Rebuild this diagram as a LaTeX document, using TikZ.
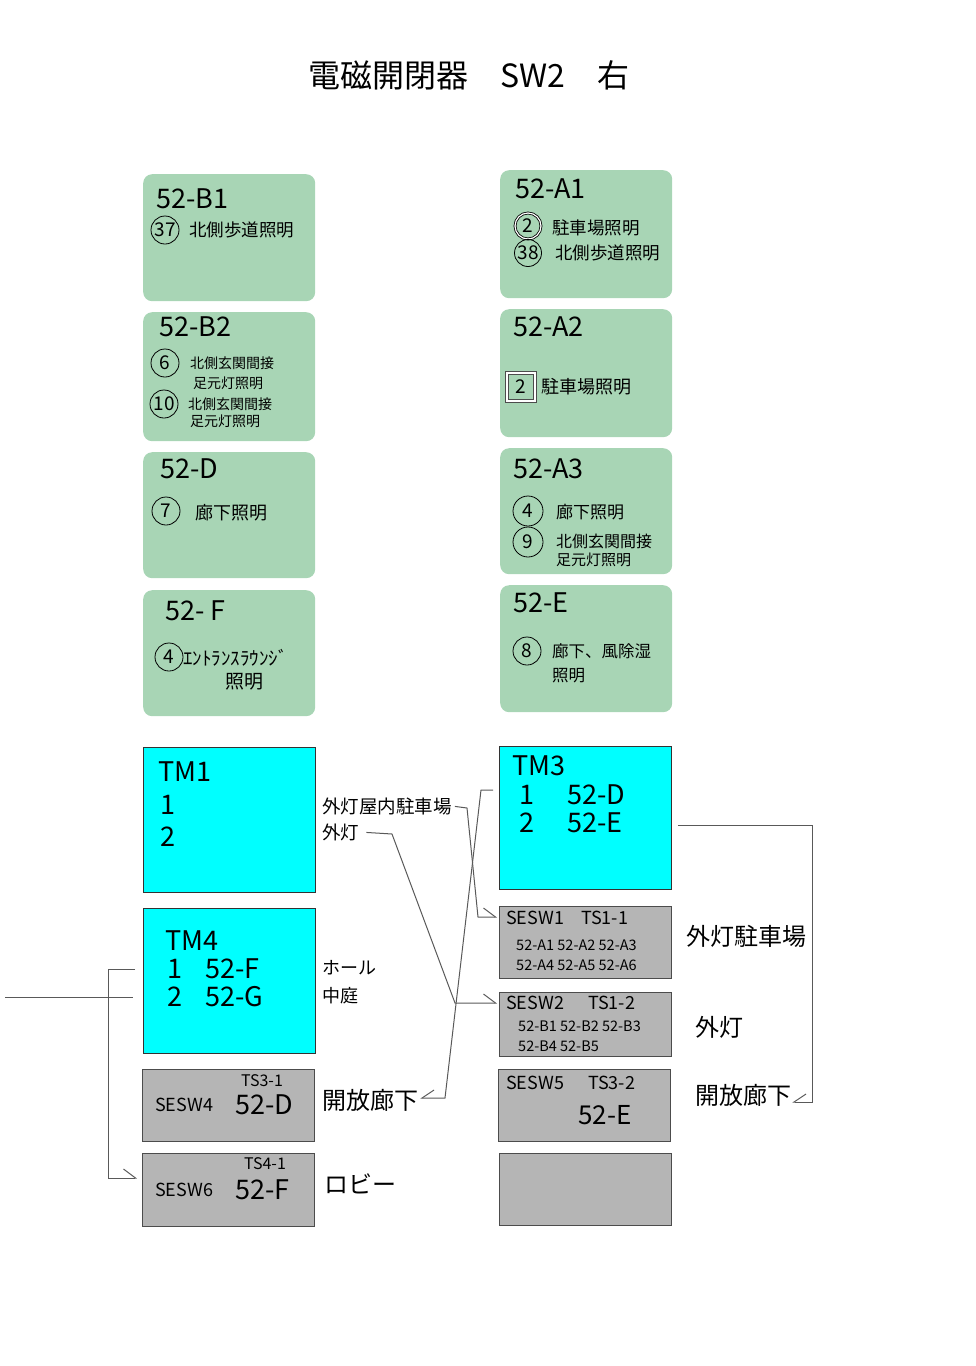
\documentclass[tikz,border=0pt]{standalone}
\usepackage{fontspec}
\setmainfont{Noto Sans CJK JP}
\usetikzlibrary{arrows.meta}
\newcommand\fsz[1]{\fontsize{#1}{#1}\selectfont}
\definecolor{boxgreen}{RGB}{168,213,181}
\definecolor{boxgray}{RGB}{181,181,181}
\definecolor{boxcyan}{RGB}{0,255,255}

\begin{document}
\begin{tikzpicture}[x=1pt,y=-1pt,
  gbox/.style={fill=boxgreen, rounded corners=9pt, anchor=north west, minimum width=172pt, inner sep=0pt},
  cbox/.style={fill=boxcyan, draw=black!80, line width=0.8pt, anchor=north west, minimum width=172pt, inner sep=0pt},
  sbox/.style={fill=boxgray, draw=black!70, line width=1pt, anchor=north west, minimum width=172pt, inner sep=0pt},
  txt/.style={anchor=west, inner sep=0pt},
  num/.style={circle, draw, line width=0.8pt, minimum size=28pt, inner sep=0pt, font=\fsz{19}},
  wire/.style={draw=black!65, line width=1pt},
  hbarb/.tip={Straight Barb[harpoon, length=12pt, width=18pt]},
  hbarbs/.tip={Straight Barb[harpoon, swap, length=12pt, width=16pt]}]
  \useasboundingbox (0,0) rectangle (976,1366);

  \node[txt, font=\fsz{32}] (title) at (308,75) {電磁開閉器　SW2　右};

  % green boxes
  \node[gbox, minimum height=127pt] (b1) at (143,174) {};
  \node[gbox, minimum height=129pt] (b2) at (143,312) {};
  \node[gbox, minimum height=126pt] (bd) at (143,452) {};
  \node[gbox, minimum height=126pt] (bf) at (143,590) {};
  \node[gbox, minimum height=128pt] (a1) at (500,170) {};
  \node[gbox, minimum height=128pt] (a2) at (500,309) {};
  \node[gbox, minimum height=126pt] (a3) at (500,448) {};
  \node[gbox, minimum height=127pt] (ae) at (500,585) {};

  \node[txt, font=\fsz{27}] (b1t) at (156,199) {52-B1};
  \node[num] (b1n1) at (165,230) {37};
  \node[txt, font=\fsz{17.5}] (b1l1) at (189,230) {北側歩道照明};

  \node[txt, font=\fsz{27}] (b2t) at (159,327) {52-B2};
  \node[num] (b2n1) at (165,363) {6};
  \node[txt, font=\fsz{14}] (b2l1) at (190,363) {北側玄関間接};
  \node[txt, font=\fsz{14}] (b2l2) at (193,383) {足元灯照明};
  \node[num] (b2n2) at (164,404) {10};
  \node[txt, font=\fsz{14}] (b2l3) at (188,404) {北側玄関間接};
  \node[txt, font=\fsz{14}] (b2l4) at (190,421) {足元灯照明};

  \node[txt, font=\fsz{27}] (bdt) at (160,469) {52-D};
  \node[num] (bdn1) at (166,511) {7};
  \node[txt, font=\fsz{18}] (bdl1) at (195,513) {廊下照明};

  \node[txt, font=\fsz{27}] (bft) at (165,611) {52- F};
  \node[num] (bfn1) at (169,657) {4};
  \node[txt, font=\fsz{19}] (bfl1) at (183,658) {ｴﾝﾄﾗﾝｽﾗｳﾝｼﾞ};
  \node[txt, font=\fsz{19}] (bfl2) at (225,682) {照明};

  \node[txt, font=\fsz{27}] (a1t) at (515,189) {52-A1};
  \node[num, minimum size=26pt, double, double distance=1.2pt] (a1n1) at (528,226) {2};
  \node[txt, font=\fsz{17.5}] (a1l1) at (552,228) {駐車場照明};
  \node[num, minimum size=27pt] (a1n2) at (528,253) {38};
  \node[txt, font=\fsz{17.5}] (a1l2) at (555,253) {北側歩道照明};

  \node[txt, font=\fsz{27}] (a2t) at (513,327) {52-A2};
  \node[draw=black!70, line width=0.8pt, double, double distance=2.5pt, minimum size=28pt, inner sep=0pt, font=\fsz{19}] (a2n1) at (521,387) {2};
  \node[txt, font=\fsz{18}] (a2l1) at (541,387) {駐車場照明};

  \node[txt, font=\fsz{27}] (a3t) at (513,469) {52-A3};
  \node[num, minimum size=30pt] (a3n1) at (528,511) {4};
  \node[txt, font=\fsz{17}] (a3l1) at (556,512) {廊下照明};
  \node[num, minimum size=30pt] (a3n2) at (528,542) {9};
  \node[txt, font=\fsz{16}] (a3l2) at (556,541) {北側玄関間接};
  \node[txt, font=\fsz{15}] (a3l3) at (556,560) {足元灯照明};

  \node[txt, font=\fsz{27}] (aet) at (513,603) {52-E};
  \node[num] (aen1) at (527,651) {8};
  \node[txt, font=\fsz{16.5}] (ael1) at (552,651) {廊下、風除湿};
  \node[txt, font=\fsz{16.5}] (ael2) at (552,676) {照明};

  % TM boxes
  \node[cbox, minimum height=145pt] (tm1) at (143,747) {};
  \node[cbox, minimum height=145pt] (tm4) at (143,908) {};
  \node[cbox, minimum height=143pt] (tm3) at (499,746) {};

  \node[txt, font=\fsz{27}] (tm1t) at (158,772) {TM1};
  \node[txt, font=\fsz{27}] (tm1a) at (160,805) {1};
  \node[txt, font=\fsz{27}] (tm1b) at (160,837) {2};

  \node[txt, font=\fsz{27}] (tm4t) at (165,941) {TM4};
  \node[txt, font=\fsz{27}] (tm4a) at (167,969) {1};
  \node[txt, font=\fsz{27}] (tm4ac) at (205,969) {52-F};
  \node[txt, font=\fsz{27}] (tm4b) at (167,997) {2};
  \node[txt, font=\fsz{27}] (tm4bc) at (205,997) {52-G};

  \node[txt, font=\fsz{27}] (tm3t) at (512,766) {TM3};
  \node[txt, font=\fsz{27}] (tm3a) at (519,795) {1};
  \node[txt, font=\fsz{27}] (tm3ac) at (567,795) {52-D};
  \node[txt, font=\fsz{27}] (tm3b) at (519,823) {2};
  \node[txt, font=\fsz{27}] (tm3bc) at (567,823) {52-E};

  % SESW boxes
  \node[sbox, minimum height=72pt] (sesw1) at (499,906) {};
  \node[sbox, minimum height=64pt] (sesw2) at (499,992) {};
  \node[sbox, minimum height=72pt] (sesw5) at (498,1069) {};
  \node[sbox, minimum height=72pt] (sesw0) at (499,1153) {};
  \node[sbox, minimum height=72pt] (sesw4) at (142,1069) {};
  \node[sbox, minimum height=73pt] (sesw6) at (142,1153) {};

  \node[txt, font=\fsz{18}] (s1t) at (506,918) {SESW1};
  \node[txt, font=\fsz{18}] (s1ts) at (581,918) {TS1-1};
  \node[txt, font=\fsz{14.5}] (s1a) at (516,945) {52-A1 52-A2 52-A3};
  \node[txt, font=\fsz{14.5}] (s1b) at (516,965) {52-A4 52-A5 52-A6};

  \node[txt, font=\fsz{18}] (s2t) at (506,1003) {SESW2};
  \node[txt, font=\fsz{18}] (s2ts) at (588,1003) {TS1-2};
  \node[txt, font=\fsz{14.5}] (s2a) at (518,1026) {52-B1 52-B2 52-B3};
  \node[txt, font=\fsz{14.5}] (s2b) at (518,1046) {52-B4 52-B5};

  \node[txt, font=\fsz{18}] (s5t) at (506,1083) {SESW5};
  \node[txt, font=\fsz{18}] (s5ts) at (588,1083) {TS3-2};
  \node[txt, font=\fsz{26}] (s5c) at (578,1115) {52-E};

  \node[txt, font=\fsz{16}] (s4ts) at (241,1081) {TS3-1};
  \node[txt, font=\fsz{18}] (s4t) at (155,1105) {SESW4};
  \node[txt, font=\fsz{27}] (s4c) at (235,1105) {52-D};

  \node[txt, font=\fsz{16}] (s6ts) at (244,1164) {TS4-1};
  \node[txt, font=\fsz{18}] (s6t) at (155,1190) {SESW6};
  \node[txt, font=\fsz{27}] (s6c) at (235,1190) {52-F};

  % labels
  \node[txt, font=\fsz{18.5}] (lok) at (322,806) {外灯屋内駐車場};
  \node[txt, font=\fsz{18.5}] (lgt) at (322,832) {外灯};
  \node[txt, font=\fsz{18}] (lhl) at (322,968) {ホール};
  \node[txt, font=\fsz{18}] (lnt) at (322,996) {中庭};
  \node[txt, font=\fsz{24}] (lkh1) at (322,1100) {開放廊下};
  \node[txt, font=\fsz{24}] (lrb) at (324,1184) {ロビー};
  \node[txt, font=\fsz{24}] (lpk) at (686,936) {外灯駐車場};
  \node[txt, font=\fsz{24}] (lgt2) at (695,1027) {外灯};
  \node[txt, font=\fsz{24}] (lkh2) at (695,1095) {開放廊下};

  % connectors
  \coordinate (c1a) at (467,808);
  \coordinate (c1b) at (478,917);
  \draw[wire, -hbarb, shorten <=3pt, shorten >=2pt] (lok.east) -- (c1a) -- (c1b) -- (sesw1.west |- c1b);
  \coordinate (c2a) at (392,834);
  \coordinate (c2b) at (455,1003);
  \draw[wire, -hbarb, shorten <=7pt, shorten >=2pt] (lgt.east) -- (c2a) -- (c2b) -- (sesw2.west |- c2b);
  \coordinate (c3a) at (481,790);
  \coordinate (c3b) at (445,1098);
  \draw[wire, -hbarbs, shorten <=6pt, shorten >=2pt] (tm3.west |- c3a) -- (c3a) -- (c3b) -- (lkh1.east |- c3b);
  \coordinate (c4a) at (812,825);
  \coordinate (c4b) at (812,1102);
  \draw[wire, -hbarbs, shorten <=6pt, shorten >=1pt] (tm3.east |- c4a) -- (c4a) -- (c4b) -- (lkh2.east |- c4b);
  \coordinate (c5a) at (5,997);
  \draw[wire, shorten >=10pt] (c5a) -- (tm4.west |- c5a);
  \coordinate (c6a) at (108,969);
  \coordinate (c6b) at (108,1178);
  \draw[wire, -hbarb, shorten <=8pt, shorten >=5pt] (tm4.west |- c6a) -- (c6a) -- (c6b) -- (sesw6.west |- c6b);
\end{tikzpicture}
\end{document}
